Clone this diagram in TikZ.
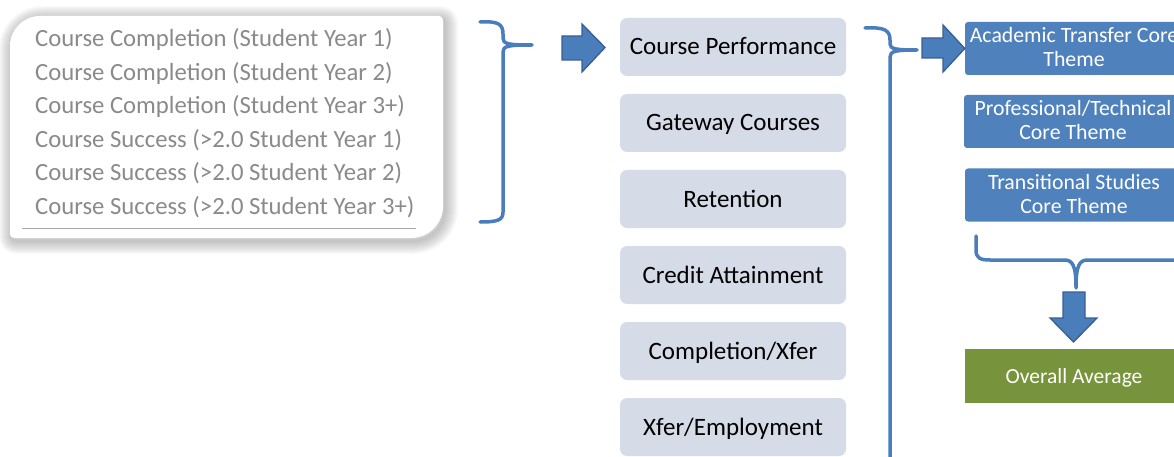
\documentclass[tikz,border=0pt]{standalone}
\usepackage{fontspec}
\setmainfont{Carlito}
\definecolor{listgray}{HTML}{8A8A8A}
\definecolor{rulegray}{HTML}{A8A8A8}
\definecolor{midfill}{HTML}{D5DBE7}
\definecolor{themeblue}{HTML}{4F81BD}
\definecolor{avggreen}{HTML}{77933C}
\definecolor{bracecol}{HTML}{4A7DBB}
\definecolor{arrowfill}{HTML}{4A7EBB}
\definecolor{arrowdraw}{HTML}{385E95}
\begin{document}
\begin{tikzpicture}[x=1pt,y=-1pt,
  listitem/.style={anchor=base west, inner sep=0, text=listgray,
    font=\fontsize{24.7}{28}\selectfont},
  midbox/.style={fill=midfill, rounded corners=7, minimum width=226,
    minimum height=58, inner sep=0, text height=16pt, text depth=0pt,
    font=\fontsize{25}{28}\selectfont},
  themebox/.style={fill=themeblue, rounded corners=3, minimum width=218,
    minimum height=53, inner sep=0, text=white, align=center,
    text depth=3pt, font=\fontsize{21.8}{24}\selectfont},
  avgbox/.style={fill=avggreen, minimum width=218, minimum height=54,
    inner sep=0, text=white, text height=14pt, text depth=0pt,
    font=\fontsize{21.5}{24}\selectfont},
  bracket/.style={draw=bracecol, line width=3.5pt, line join=round, line cap=round},
  blockarrow/.style={fill=arrowfill, draw=arrowdraw, line width=1.3pt, line join=miter}
]
\useasboundingbox (0,0) rectangle (1174,457);
\clip (0,0) rectangle (1174,457);

% outline of the measure card: large rounding top left and bottom right
\newcommand\cardoutline{(10,46) .. controls (10,29.4) and (23.4,16) .. (40,16)
  -- (439,16) .. controls (441.2,16) and (443,17.8) .. (443,20)
  -- (443,206) .. controls (443,223.7) and (428.7,238) .. (411,238)
  -- (14,238) .. controls (11.8,238) and (10,236.2) .. (10,234) -- cycle}

% soft shadow around the card
\begin{scope}[shift={(2,3)}]
  \foreach \w in {2,4,...,26}
    \draw[line width=\w pt, black, opacity=0.02, line join=round] \cardoutline;
\end{scope}
\fill[white] \cardoutline;

% measure list
\node[listitem] (l1) at (35,46.5)  {Course Completion (Student Year 1)};
\node[listitem] (l2) at (35,80.1)  {Course Completion (Student Year 2)};
\node[listitem] (l3) at (35,113.7) {Course Completion (Student Year 3+)};
\node[listitem] (l4) at (35,147.3) {Course Success (>2.0 Student Year 1)};
\node[listitem] (l5) at (35,180.9) {Course Success (>2.0 Student Year 2)};
\node[listitem] (l6) at (35,214.5) {Course Success (>2.0 Student Year 3+)};
\coordinate (ruleL) at (22,228);
\coordinate (ruleR) at (416,228);
\draw[rulegray, line width=1pt] (ruleL) -- (ruleR);

% metric boxes
\node[midbox] (m1) at (733,47)  {Course Performance};
\node[midbox] (m2) at (733,123) {Gateway Courses};
\node[midbox] (m3) at (733,199) {Retention};
\node[midbox] (m4) at (733,275) {Credit Attainment};
\node[midbox] (m5) at (733,351) {Completion/Xfer};
\node[midbox] (m6) at (733,427) {Xfer/Employment};

% core theme boxes
\node[themebox] (t1) at (1074,48.5) {Academic Transfer Core\\Theme};
\node[themebox] (t2) at (1073,121.5) {Professional/Technical\\Core Theme};
\node[themebox] (t3) at (1074,195) {Transitional Studies\\Core Theme};
\node[avgbox] (avg) at (1074,376) {Overall Average};

% bracket gathering the measure list
\coordinate (b1tip) at (532,45);
\draw[bracket] (480,22) .. controls (498,21) and (503,24) .. (503,34) -- (503,38)
  .. controls (503,44) and (508,45) .. (b1tip)
  .. controls (508,45) and (503,46) .. (503,52) -- (503,212)
  .. controls (503,220) and (498,222) .. (480,222);

% arrow into Course Performance
\draw[blockarrow] (562,36) -- (582,36) -- (582,24) -- (605,47.5) -- (582,72)
  -- (582,60) -- (562,60) -- cycle;

% bracket gathering the metric boxes
\coordinate (b2tip) at (917,50);
\draw[bracket] (865,28) .. controls (884,27) and (890,30) .. (890,40) -- (890,44)
  .. controls (890,49) and (896,50) .. (b2tip)
  .. controls (896,50) and (890,51) .. (890,57) -- (890,470);

% arrow into the first core theme
\draw[blockarrow] (922,38) -- (943,38) -- (943,25) -- (t1.west) -- (943,72)
  -- (943,58) -- (922,58) -- cycle;

% bracket gathering the core themes
\coordinate (b3tip) at (1076,288);
\draw[bracket] (976,236) -- (976,250) .. controls (976,258) and (980,260) .. (990,260)
  -- (1064,260) .. controls (1072,260) and (1076,264) .. (b3tip)
  .. controls (1076,264) and (1080,260) .. (1088,260) -- (1185,260);

% arrow down to the overall average
\draw[blockarrow] (1063,292) -- (1085,292) -- (1085,318) -- (1097,318)
  -- (1073.5,342) -- (1050,318) -- (1063,318) -- cycle;
\end{tikzpicture}
\end{document}
